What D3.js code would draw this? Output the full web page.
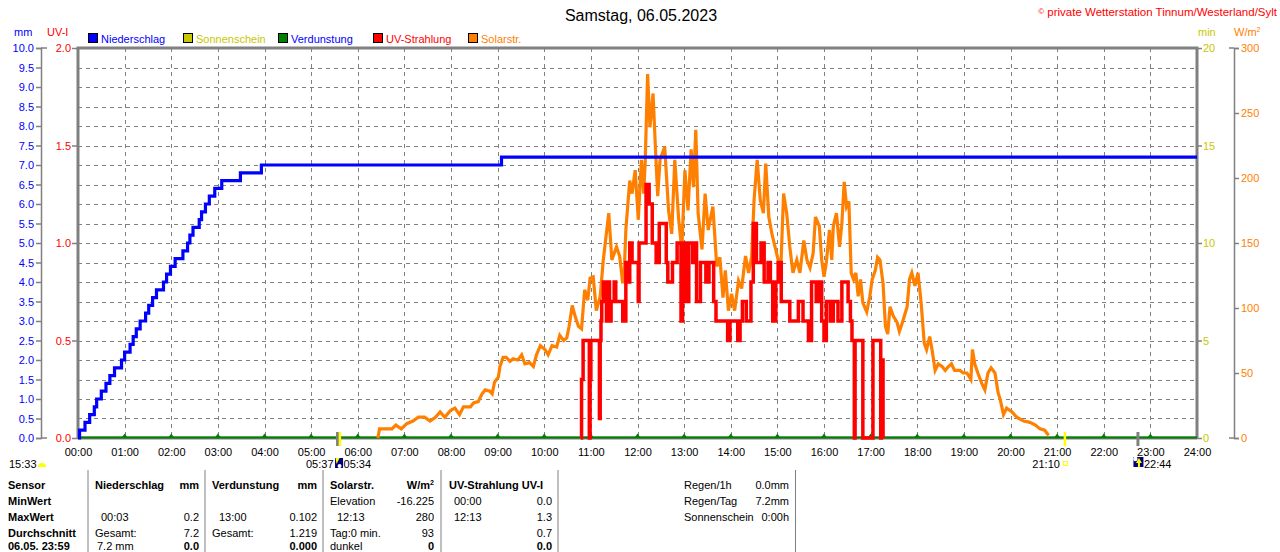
<!DOCTYPE html>
<html><head><meta charset="utf-8">
<script src="https://cdn.jsdelivr.net/npm/d3@7"></script>
<style>
body{margin:0;background:#fff;overflow:hidden;}
svg text{font-family:"Liberation Sans",Arial,sans-serif;font-size:11px;}
</style></head><body>
<svg id="c" width="1280" height="552"></svg>
<script>
// ---------------- DATA ----------------
const titleText = "Samstag, 06.05.2023";
const hourTicks = d3.range(0, 25);            // 00:00 .. 24:00
const mmTicks = [0,0.5,1,1.5,2,2.5,3,3.5,4,4.5,5,5.5,6,6.5,7,7.5,8,8.5,9,9.5,10];
const uvTicks = [0,0.5,1,1.5,2];
const minTicks = [0,5,10,15,20];
const solarTicks = [0,50,100,150,200,250,300];

const legendNames = ["Niederschlag","Sonnenschein","Verdunstung","UV-Strahlung","Solarstr."];
const legendFill  = ["#0000ff","#c8c800","#008000","#ff0000","#ff8000"];
const legendText  = ["#0000ff","#c8c800","#0000ff","#ff0000","#ff8000"];

// cumulative precipitation (mm), step function
const rainTimes  = ["00:00","00:02","00:09","00:15","00:21","00:24","00:30","00:36","00:41","00:47","00:56","01:00","01:07","01:11","01:15","01:20","01:27","01:31","01:36","01:41","01:50","01:54","01:59","02:05","02:15","02:21","02:24","02:28","02:36","02:39","02:44","02:49","02:56","03:05","03:29","03:56","09:05","24:00"];
const rainValues = [0,0.2,0.4,0.6,0.8,1.0,1.2,1.4,1.6,1.8,2.0,2.2,2.4,2.6,2.8,3.0,3.2,3.4,3.6,3.8,4.0,4.2,4.4,4.6,4.8,5.0,5.2,5.4,5.6,5.8,6.0,6.2,6.4,6.6,6.8,7.0,7.2,7.2];

// UV index, step function
const uvTimes  = ["10:47","10:48","10:50","10:58","10:59","11:00","11:11","11:12","11:13","11:14","11:16","11:20","11:22","11:24","11:26","11:30","11:32","11:37","11:41","11:45","11:49","11:50","11:53","11:58","12:01","12:02","12:11","12:15","12:19","12:24","12:28","12:37","12:39","12:45","12:51","12:56","12:58","13:02","13:06","13:11","13:13","13:16","13:21","13:28","13:32","13:38","13:41","13:56","13:59","14:02","14:09","14:12","14:15","14:20","14:26","14:29","14:33","14:39","14:43","14:48","14:51","14:54","14:58","15:01","15:05","15:16","15:27","15:33","15:40","15:44","15:50","15:53","15:57","16:00","16:03","16:08","16:12","16:18","16:23","16:31","16:34","16:36","16:39","16:40","16:50","17:03","17:13","17:14","17:16"];
const uvValues = [0,0.3,0.5,0,0.3,0.5,0.1,0.5,0.6,0.7,0.8,0.6,0.8,0.6,0.7,0.8,0.7,0.7,0.6,0.9,0.8,1.0,0.9,0.9,0.7,1.0,1.3,1.2,1.0,0.9,1.1,0.9,0.8,0.9,1.0,0.6,1.0,0.7,1.0,0.9,1.0,0.7,0.9,0.8,0.9,0.7,0.6,0.5,0.6,0.6,0.5,0.6,0.7,0.6,0.8,1.1,0.9,1.0,0.8,0.9,0.8,0.6,0.8,0.9,0.7,0.6,0.7,0.6,0.5,0.8,0.7,0.8,0.6,0.5,0.7,0.6,0.7,0.6,0.8,0.7,0.6,0.5,0,0.5,0,0.5,0,0.4,0];

// solar radiation W/m²
const solarTimes = ["06:26","06:28","06:36","06:44","06:49","06:56","07:03","07:11","07:18","07:26","07:33","07:40","07:46","07:52","07:59","08:05","08:11","08:16","08:25","08:29","08:35","08:40","08:44","08:50","08:53","08:56","09:01","09:03","09:07","09:11","09:16","09:20","09:26","09:31","09:35","09:41","09:46","09:50","09:55","10:01","10:05","10:10","10:16","10:20","10:25","10:29","10:32","10:36","10:40","10:44","10:48","10:52","10:56","10:59","11:03","11:07","11:12","11:16","11:23","11:27","11:33","11:37","11:41","11:43","11:45","11:48","11:50","11:53","11:57","12:01","12:05","12:08","12:10","12:13","12:16","12:20","12:23","12:26","12:29","12:35","12:40","12:44","12:48","12:53","12:57","13:01","13:05","13:09","13:12","13:15","13:18","13:23","13:27","13:31","13:37","13:42","13:46","13:50","13:53","13:57","14:01","14:05","14:10","14:14","14:19","14:23","14:27","14:30","14:34","14:38","14:42","14:45","14:49","14:53","14:57","15:01","15:04","15:08","15:12","15:16","15:20","15:25","15:29","15:34","15:38","15:42","15:46","15:49","15:54","15:57","16:00","16:03","16:07","16:10","16:12","16:16","16:20","16:23","16:26","16:29","16:32","16:35","16:38","16:41","16:44","16:47","16:50","16:55","16:59","17:02","17:06","17:09","17:12","17:16","17:19","17:22","17:25","17:29","17:34","17:37","17:41","17:47","17:50","17:53","17:57","18:01","18:05","18:09","18:12","18:16","18:19","18:23","18:27","18:32","18:36","18:40","18:44","18:48","18:55","18:59","19:04","19:09","19:11","19:14","19:18","19:23","19:27","19:31","19:35","19:40","19:44","19:47","19:51","19:55","20:02","20:08","20:17","20:25","20:32","20:38","20:44","20:49"];
const solarValues = [0,7,7,7,10,7,11,13,16,16,13,16,20,16,21,23,18,24,24,27,28,34,37,36,34,43,47,55,62,62,59,61,60,64,57,58,55,64,71,68,64,71,70,79,75,77,86,102,93,86,84,114,106,123,124,98,109,137,173,137,147,140,119,129,160,183,198,188,206,168,214,188,214,280,239,265,224,186,214,224,175,157,214,168,145,206,175,222,193,237,173,145,188,160,178,132,139,108,129,98,111,98,121,115,140,127,140,183,214,183,173,211,170,157,147,137,124,188,173,147,127,137,127,152,137,131,142,170,163,137,124,135,160,137,163,173,147,165,197,178,182,127,122,127,109,122,104,97,109,122,129,139,137,119,86,80,101,94,89,82,89,101,122,127,117,127,104,73,68,78,68,52,57,55,52,55,57,52,52,50,50,45,68,57,50,42,37,50,54,50,35,29,18,23,20,16,13,12,10,7,6,2];

// sun / moon events
const sunriseTime = "05:37", sunsetTime = "21:10", moonsetTime = "05:34", moonriseTime = "22:44", dayLength = "15:33";

// statistics table
const tableRows = ["Sensor","MinWert","MaxWert","Durchschnitt","06.05. 23:59"];

// ---------------- CHART ----------------
const svg = d3.select("#c");
const L = 78, R = 1197, T = 48, B = 438;
const toMin = s => +s.slice(0,2)*60 + +s.slice(3,5);
const x = d3.scaleLinear().domain([0,1440]).range([L,R]);
const yMM = d3.scaleLinear().domain([0,10]).range([B,T]);
const yUV = d3.scaleLinear().domain([0,2]).range([B,T]);
const yMin = d3.scaleLinear().domain([0,20]).range([B,T]);
const ySol = d3.scaleLinear().domain([0,300]).range([B,T]);
const GRAY = "#808080";
const FONT = "Liberation Sans, Arial, sans-serif";

// title & copyright
svg.append("text").attr("x",641).attr("y",21).attr("text-anchor","middle")
  .style("font-size","16px").attr("fill","#000").text(titleText);
const cp = svg.append("text").attr("x",1277).attr("y",16).attr("text-anchor","end").attr("fill","#ff0000").style("font-size","11.5px");
cp.append("tspan").style("font-size","8px").attr("dy","-2").text("©");
cp.append("tspan").attr("dy","2").text(" private Wetterstation Tinnum/Westerland/Sylt");

// unit labels
svg.append("text").attr("x",14).attr("y",36).attr("fill","#0000ff").text("mm");
svg.append("text").attr("x",47).attr("y",36).attr("fill","#ff0000").text("UV-I");
svg.append("text").attr("x",1198).attr("y",36).attr("fill","#c8c800").text("min");
const wl = svg.append("text").attr("x",1234).attr("y",36).attr("fill","#ff8000");
wl.append("tspan").text("W/m");
wl.append("tspan").style("font-size","7px").attr("dy","-4").text("2");

// legend
const lg = svg.append("g").selectAll("g").data(legendNames).join("g")
  .attr("transform",(d,i)=>`translate(${88+i*95},33)`);
lg.append("rect").attr("width",9).attr("height",9).attr("x",0.5).attr("y",0.5)
  .attr("fill",(d,i)=>legendFill[i]).attr("stroke","#000").attr("stroke-width",1);
lg.append("text").attr("x",13).attr("y",9.5).attr("fill",(d,i)=>legendText[i]).text(d=>d);

// grid
const grid = svg.append("g").attr("stroke",GRAY).attr("stroke-width",1).attr("stroke-dasharray","4,4");
grid.selectAll(".h").data(mmTicks.filter(v=>v>0&&v<10)).join("line")
  .attr("x1",L).attr("x2",R).attr("y1",d=>Math.round(yMM(d))+0.5).attr("y2",d=>Math.round(yMM(d))+0.5);
grid.selectAll(".v").data(hourTicks.filter(h=>h>0&&h<24)).join("line")
  .attr("x1",d=>Math.round(x(d*60))+0.5).attr("x2",d=>Math.round(x(d*60))+0.5).attr("y1",T).attr("y2",B);

// left mm axis
const axMM = svg.append("g").attr("transform","translate(41,0)")
  .call(d3.axisLeft(yMM).tickValues(mmTicks).tickFormat(d3.format(".1f")).tickSize(5).tickPadding(2));
axMM.select(".domain").attr("stroke",GRAY).attr("stroke-width",1.5);
axMM.selectAll(".tick line").attr("stroke",GRAY).attr("stroke-width",1.5);
axMM.selectAll("text").attr("fill","#0000ff").style("font-size","11px").style("font-family",FONT);
svg.append("g").selectAll("line").data([0,10]).join("line").attr("x1",41).attr("x2",47)
  .attr("y1",d=>yMM(d)).attr("y2",d=>yMM(d)).attr("stroke",GRAY).attr("stroke-width",1.5);

// UV axis
const axUV = svg.append("g").attr("transform",`translate(${L},0)`)
  .call(d3.axisLeft(yUV).tickValues(uvTicks).tickFormat(d3.format(".1f")).tickSize(6).tickPadding(1));
axUV.select(".domain").remove();
axUV.selectAll(".tick line").attr("stroke",GRAY).attr("stroke-width",1.5);
axUV.selectAll("text").attr("fill","#ff0000").style("font-size","11px").style("font-family",FONT);

// right min axis
const axMin = svg.append("g").attr("transform",`translate(${R},0)`)
  .call(d3.axisRight(yMin).tickValues(minTicks).tickSize(5).tickPadding(1));
axMin.select(".domain").remove();
axMin.selectAll(".tick line").attr("stroke",GRAY).attr("stroke-width",1.5);
axMin.selectAll("text").attr("fill","#c8c800").style("font-size","11px").style("font-family",FONT);

// solar axis
const axSol = svg.append("g").attr("transform","translate(1234,0)")
  .call(d3.axisRight(ySol).tickValues(solarTicks).tickSize(5).tickPadding(2));
axSol.select(".domain").attr("stroke",GRAY).attr("stroke-width",1.5);
axSol.selectAll(".tick line").attr("stroke",GRAY).attr("stroke-width",1.5);
axSol.selectAll("text").attr("fill","#ff8000").style("font-size","11px").style("font-family",FONT);
svg.append("g").selectAll("line").data([0,300]).join("line").attr("x1",1229).attr("x2",1234)
  .attr("y1",d=>ySol(d)).attr("y2",d=>ySol(d)).attr("stroke",GRAY).attr("stroke-width",1.5);

// bottom axis labels
const axX = svg.append("g").attr("transform",`translate(0,${B})`)
  .call(d3.axisBottom(x).tickValues(hourTicks.map(h=>h*60)).tickSize(0).tickPadding(10)
    .tickFormat(d=>String(d/60).padStart(2,"0")+":00"));
axX.select(".domain").remove();
axX.selectAll("text").attr("fill","#000").style("font-size","11px").style("font-family",FONT);

// frame
const fr = svg.append("g").attr("stroke",GRAY).attr("stroke-width",3).attr("fill","none");
fr.append("line").attr("x1",L-1.5).attr("x2",R+1.5).attr("y1",T).attr("y2",T);
fr.append("line").attr("x1",L).attr("x2",L).attr("y1",T).attr("y2",B+1);
fr.append("line").attr("x1",R).attr("x2",R).attr("y1",T).attr("y2",B+1);
fr.append("line").attr("x1",L).attr("x2",R).attr("y1",B).attr("y2",B);

// Verdunstung baseline + hourly markers
svg.append("line").attr("x1",L).attr("x2",R).attr("y1",yMM(0)-0.5).attr("y2",yMM(0)-0.5)
  .attr("stroke","#008000").attr("stroke-width",2);
svg.append("g").selectAll("path").data(hourTicks.filter(h=>h>0&&h<24)).join("path")
  .attr("d",d=>`M${x(d*60)-2.5},${B-1}L${x(d*60)},${B-4.5}L${x(d*60)+2.5},${B-1}Z`).attr("fill","#008000");

// solar line
const solarData = solarTimes.map((t,i)=>({t:toMin(t),v:solarValues[i]}));
svg.append("path").datum(solarData)
  .attr("d",d3.line().x(d=>x(d.t)).y(d=>ySol(d.v)))
  .attr("fill","none").attr("stroke","#ff8000").attr("stroke-width",3.2).attr("stroke-linejoin","miter");

// UV line
const uvData = uvTimes.map((t,i)=>({t:toMin(t),v:uvValues[i]}));
svg.append("path").datum(uvData)
  .attr("d",d3.line().curve(d3.curveStepAfter).x(d=>x(d.t)).y(d=>yUV(d.v)))
  .attr("fill","none").attr("stroke","#ff0000").attr("stroke-width",3.5);

// rain line
const rainData = rainTimes.map((t,i)=>({t:toMin(t),v:rainValues[i]}));
svg.append("path").datum(rainData)
  .attr("d",d3.line().curve(d3.curveStepAfter).x(d=>x(d.t)).y(d=>yMM(d.v)))
  .attr("fill","none").attr("stroke","#0000ff").attr("stroke-width",3.2);

// sun & moon markers on axis
const mk = svg.append("g");
[[moonsetTime,GRAY],[moonriseTime,GRAY],[sunriseTime,"#ffff00"],[sunsetTime,"#ffff00"]].forEach(([t,c])=>{
  mk.append("line").attr("x1",x(toMin(t))).attr("x2",x(toMin(t))).attr("y1",432).attr("y2",446)
    .attr("stroke",c).attr("stroke-width",c===GRAY?3:2.5);
});
const ev = svg.append("g").attr("fill","#000");
ev.append("text").attr("x",9).attr("y",468).text(dayLength);
svg.append("path").attr("d","M38,467 A4,4 0 0 1 46,467 Z").attr("fill","#ffff00");
const xr = x(toMin(moonsetTime));
ev.append("text").attr("x",xr-4).attr("y",468).attr("text-anchor","end").text(sunriseTime);
svg.append("rect").attr("x",xr-2.5).attr("y",458).attr("width",8).attr("height",10).attr("fill","#000080");
svg.append("path").attr("d",`M${xr-2},${458}L${xr+2},${458}L${xr-1},${464}Z`).attr("fill","#ffff00");
svg.append("circle").attr("cx",xr+2).attr("cy",466).attr("r",2).attr("fill","#fff");
ev.append("text").attr("x",xr+6).attr("y",468).text(moonsetTime);
const xs = x(toMin(sunsetTime));
ev.append("text").attr("x",xs-5).attr("y",468).attr("text-anchor","end").text(sunsetTime);
svg.append("rect").attr("x",xs-1.5).attr("y",461.5).attr("width",4).attr("height",4).attr("fill","none").attr("stroke","#ffff00").attr("stroke-width",1);
const xm = x(toMin(moonriseTime));
svg.append("rect").attr("x",xm-4.5).attr("y",457).attr("width",10).attr("height",10).attr("fill","#000080");
svg.append("circle").attr("cx",xm-2.5).attr("cy",459).attr("r",2.2).attr("fill","#fff");
svg.append("path").attr("d",`M${xm+1},${458}L${xm+4},${463}L${xm+2},${463}L${xm+2},${467}L${xm},${467}L${xm},${463}L${xm-2},${463}Z`).attr("fill","#ffff00");
ev.append("text").attr("x",xm+6).attr("y",468).text(moonriseTime);

// table separators
svg.append("g").selectAll("line").data([88,205,323,441,558,795.5]).join("line")
  .attr("x1",d=>d).attr("x2",d=>d).attr("y1",470).attr("y2",552).attr("stroke",GRAY).attr("stroke-width",1);

// table text
const rowY = i => (i<4 ? 489 + i*16 : 550);
const tg = svg.append("g").attr("fill","#000");
tableRows.forEach((r,i)=>tg.append("text").attr("x",8).attr("y",rowY(i)).style("font-weight","bold").text(r));
const cells = [
  // x, row, text, anchor, bold
  [95,0,"Niederschlag","start",1],[199,0,"mm","end",1],
  [101,2,"00:03","start",0],[199,2,"0.2","end",0],
  [95,3,"Gesamt:","start",0],[199,3,"7.2","end",0],
  [97,4,"7.2 mm","start",0],[199,4,"0.0","end",1],
  [212,0,"Verdunstung","start",1],[317,0,"mm","end",1],
  [219,2,"13:00","start",0],[317,2,"0.102","end",0],
  [212,3,"Gesamt:","start",0],[317,3,"1.219","end",0],
  [317,4,"0.000","end",1],
  [330,0,"Solarstr.","start",1],
  [330,1,"Elevation","start",0],[434,1,"-16.225","end",0],
  [337,2,"12:13","start",0],[434,2,"280","end",0],
  [330,3,"Tag:0 min.","start",0],[434,3,"93","end",0],
  [330,4,"dunkel","start",0],[434,4,"0","end",1],
  [449,0,"UV-Strahlung UV-I","start",1],
  [454,1,"00:00","start",0],[552,1,"0.0","end",0],
  [454,2,"12:13","start",0],[552,2,"1.3","end",0],
  [552,3,"0.7","end",0],[552,4,"0.0","end",1],
  [684,0,"Regen/1h","start",0],[789,0,"0.0mm","end",0],
  [684,1,"Regen/Tag","start",0],[789,1,"7.2mm","end",0],
  [684,2,"Sonnenschein","start",0],[789,2,"0:00h","end",0]
];
cells.forEach(c=>tg.append("text").attr("x",c[0]).attr("y",rowY(c[1])).attr("text-anchor",c[3])
  .style("font-weight",c[4]?"bold":"normal").text(c[2]));
const wm = tg.append("text").attr("x",434).attr("y",rowY(0)).attr("text-anchor","end").style("font-weight","bold");
wm.append("tspan").text("W/m");
wm.append("tspan").style("font-size","7px").attr("dy","-4").text("2");
</script></body></html>
